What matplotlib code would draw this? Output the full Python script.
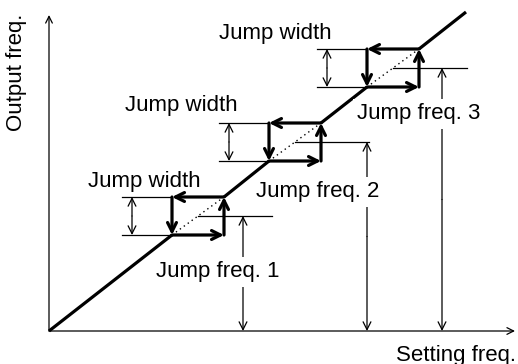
import matplotlib.pyplot as plt

plt.rcParams["font.family"] = ["Liberation Sans", "DejaVu Sans"]

# diagram units: x = setting freq, y = output freq (origin at the axes corner)
line_end = (417, 319)
jump_x = [149, 246, 344]          # setting freq at the centre of each jump
jump_y = [115, 189, 263]          # output freq at the centre (jump freq level)
box_w = 52
box_h = 38
freq_arrow_x = [194, 318, 393]    # where the "Jump freq." arrows stand
freq_line_len = 74
labels_freq = ["Jump freq. 1", "Jump freq. 2", "Jump freq. 3"]
freq_text_pos = [(169, 59), (269, 139), (370, 217)]
width_text_pos = [(95, 149), (132, 225), (226, 298)]

fig = plt.figure(figsize=(5.18, 3.64), dpi=100)
ax = fig.add_axes([0, 0, 1, 1])
ax.set_xlim(-49, 469)
ax.set_ylim(-33, 331)
ax.axis("off")

def arrow(p0, p1, style="->", lw=0.9, scale=12):
    ax.annotate("", xy=p1, xytext=p0,
                arrowprops=dict(arrowstyle=style, lw=lw, color="black",
                                mutation_scale=scale, shrinkA=0, shrinkB=0))

# axes
arrow((0, 0), (0, 316))
arrow((0, 0), (466, 0))
ax.text(-32, 259, "Output freq.", rotation=90, ha="center", va="center", fontsize=16)
ax.text(467, -24, "Setting freq.", ha="right", va="center", fontsize=16)

# output-frequency characteristic: solid outside the jump bands
xs = [0]
ys = [0]
for cx, cy in zip(jump_x, jump_y):
    xs += [cx - box_w / 2, None, cx + box_w / 2]
    ys += [cy - box_h / 2, None, cy + box_h / 2]
xs.append(line_end[0])
ys.append(line_end[1])
seg_x, seg_y = [], []
for x, y in zip(xs, ys):
    if x is None:
        ax.plot(seg_x, seg_y, color="black", lw=2.3, solid_capstyle="butt")
        seg_x, seg_y = [], []
    else:
        seg_x.append(x)
        seg_y.append(y)
ax.plot(seg_x, seg_y, color="black", lw=2.3, solid_capstyle="butt")

for i, (cx, cy) in enumerate(zip(jump_x, jump_y)):
    l, r = cx - box_w / 2, cx + box_w / 2
    b, t = cy - box_h / 2, cy + box_h / 2
    # dotted part of the line inside the band
    ax.plot([l, r], [b, t], color="black", lw=1.0, ls=(0, (1, 2.5)))
    # hysteresis loop
    arrow((l, b), (r, b), lw=2.3, scale=16)
    arrow((r, b), (r, t), lw=2.3, scale=16)
    arrow((r, t), (l, t), lw=2.3, scale=16)
    arrow((l, t), (l, b), lw=2.3, scale=16)

    # jump width dimension
    ax.plot([l - 50, l], [t, t], color="black", lw=0.9)
    ax.plot([l - 50, l], [b, b], color="black", lw=0.9)
    arrow((l - 40, cy), (l - 40, t), lw=0.9, scale=14)
    arrow((l - 40, cy), (l - 40, b), lw=0.9, scale=14)
    ax.text(*width_text_pos[i], "Jump width", ha="center", va="center", fontsize=16)

    # jump frequency
    ax.plot([cx, cx + freq_line_len], [cy, cy], color="black", lw=0.9)
    fx = freq_arrow_x[i]
    arrow((fx, cy / 2), (fx, cy), lw=0.9, scale=14)
    arrow((fx, cy / 2), (fx, 0), lw=0.9, scale=14)
    ax.text(*freq_text_pos[i], labels_freq[i], ha="center", va="center", fontsize=16,
            bbox=dict(facecolor="white", edgecolor="none", pad=3))

fig.savefig("out.png", dpi=100, facecolor="white")
